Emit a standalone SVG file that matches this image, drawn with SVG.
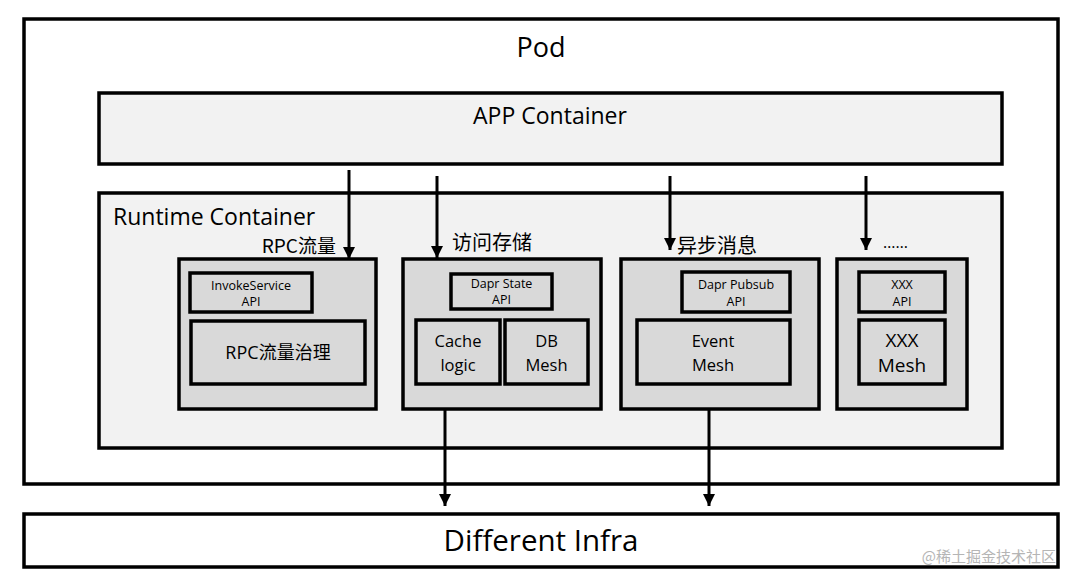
<svg xmlns="http://www.w3.org/2000/svg" width="1080" height="587" viewBox="0 0 1080 587">
<style>
.box{stroke:#000;stroke-width:3.5;}
.white{fill:#fff;}
.light{fill:#f2f2f2;}
.mid{fill:#d9d9d9;}
text{font-family:"Open Sans","Liberation Sans","Noto Sans CJK SC",sans-serif;fill:#000;}
.cn{font-family:"Noto Sans CJK SC","Open Sans",sans-serif;}
.conn{stroke:#000;stroke-width:3;fill:none;marker-end:url(#ah);}
</style>
<defs>
<marker id="ah" viewBox="0 0 10 10" refX="10" refY="5" markerWidth="4" markerHeight="4" markerUnits="strokeWidth" orient="auto">
<path d="M0,0 L10,5 L0,10 z" fill="#000"/>
</marker>
</defs>
<rect width="1080" height="587" fill="#fff"/>
<g id="pod">
<rect class="box white" x="24" y="19" width="1034" height="465"/>
<text x="541" y="57" font-size="27" text-anchor="middle">Pod</text>
</g>
<g id="app-container">
<rect class="box light" x="99" y="93" width="903" height="71"/>
<text x="550" y="124" font-size="23" text-anchor="middle">APP Container</text>
</g>
<g id="runtime-container">
<rect class="box light" x="99" y="193" width="903" height="255"/>
<text x="113" y="225" font-size="23">Runtime Container</text>
</g>
<g id="infra">
<rect class="box white" x="24" y="514" width="1034" height="53"/>
<text x="541" y="551" font-size="29.5" text-anchor="middle">Different Infra</text>
</g>
<g id="rpc-module">
<rect class="box mid" x="179" y="259" width="197" height="150"/>
<rect class="box mid" x="190" y="273" width="122" height="39"/>
<text x="251" y="290" font-size="12.5" text-anchor="middle">InvokeService</text>
<text x="251" y="306" font-size="12.5" text-anchor="middle">API</text>
<rect class="box mid" x="191" y="321" width="174" height="63"/>
<text x="278" y="359" font-size="18" text-anchor="middle">RPC流量治理</text>
</g>
<g id="state-module">
<rect class="box mid" x="403" y="259" width="198" height="150"/>
<rect class="box mid" x="451" y="274" width="101" height="35"/>
<text x="501.5" y="288" font-size="12.5" text-anchor="middle">Dapr State</text>
<text x="501.5" y="304" font-size="12.5" text-anchor="middle">API</text>
<rect class="box mid" x="416" y="320" width="84" height="64"/>
<text x="458" y="347" font-size="16.5" text-anchor="middle">Cache</text>
<text x="458" y="371" font-size="16.5" text-anchor="middle">logic</text>
<rect class="box mid" x="505" y="320" width="83" height="64"/>
<text x="546.5" y="347" font-size="16.5" text-anchor="middle">DB</text>
<text x="546.5" y="371" font-size="16.5" text-anchor="middle">Mesh</text>
</g>
<g id="pubsub-module">
<rect class="box mid" x="621" y="259" width="198" height="150"/>
<rect class="box mid" x="682" y="272" width="108" height="40"/>
<text x="736" y="289" font-size="12.5" text-anchor="middle">Dapr Pubsub</text>
<text x="736" y="306" font-size="12.5" text-anchor="middle">API</text>
<rect class="box mid" x="637" y="320" width="153" height="64"/>
<text x="713" y="347" font-size="16.5" text-anchor="middle">Event</text>
<text x="713" y="371" font-size="16.5" text-anchor="middle">Mesh</text>
</g>
<g id="xxx-module">
<rect class="box mid" x="837" y="259" width="130" height="150"/>
<rect class="box mid" x="859" y="272" width="86" height="40"/>
<text x="902" y="289" font-size="12.5" text-anchor="middle">XXX</text>
<text x="902" y="306" font-size="12.5" text-anchor="middle">API</text>
<rect class="box mid" x="859" y="320" width="86" height="64"/>
<text x="902" y="347" font-size="19" text-anchor="middle">XXX</text>
<text x="902" y="372" font-size="19" text-anchor="middle">Mesh</text>
</g>
<g id="labels">
<text class="cn" x="336" y="253" font-size="19" text-anchor="end">RPC流量</text>
<text class="cn" x="452" y="250" font-size="20">访问存储</text>
<text class="cn" x="677" y="253" font-size="20">异步消息</text>
<text x="883" y="248" font-size="16">……</text>
</g>
<g id="connectors">
<line class="conn" x1="349" y1="170" x2="349" y2="259"/>
<line class="conn" x1="437" y1="176" x2="437" y2="258"/>
<line class="conn" x1="670" y1="176" x2="670" y2="250"/>
<line class="conn" x1="866" y1="176" x2="866" y2="250"/>
<line class="conn" x1="445" y1="409" x2="445" y2="506"/>
<line class="conn" x1="709" y1="409" x2="709" y2="506"/>
</g>
<text class="cn" x="1056" y="562" font-size="15" text-anchor="end" style="fill:#b5b5b5">@稀土掘金技术社区</text>
</svg>
